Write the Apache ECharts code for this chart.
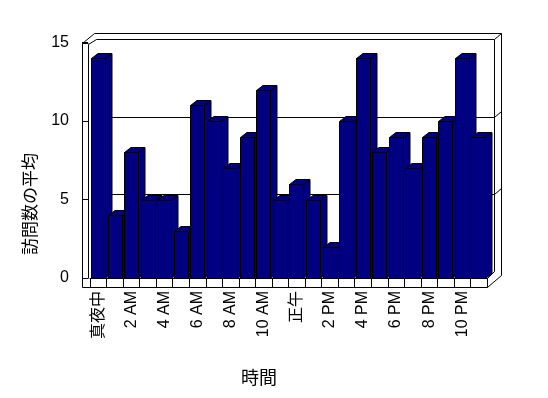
<!DOCTYPE html>
<html>
<head>
<meta charset="utf-8">
<script src="https://cdn.jsdelivr.net/npm/echarts@6/dist/echarts.min.js"></script>
<style>
  html, body { margin: 0; padding: 0; background: #fff; }
  #chart { width: 548px; height: 398px; }
</style>
</head>
<body>
<div id="chart"></div>
<script>
// hours of the day
var hours = [
  "真夜中", "1 AM", "2 AM", "3 AM", "4 AM", "5 AM", "6 AM", "7 AM",
  "8 AM", "9 AM", "10 AM", "11 AM", "正午", "1 PM", "2 PM", "3 PM",
  "4 PM", "5 PM", "6 PM", "7 PM", "8 PM", "9 PM", "10 PM", "11 PM"
];
// average visits per hour
var visits = [14, 4, 8, 5, 5, 3, 11, 10, 7, 9, 12, 5, 6, 5, 2, 10, 14, 8, 9, 7, 9, 10, 14, 9];
var yTicks = { min: 0, max: 15, step: 5 };
var xTitle = "時間";
var yTitle = "訪問数の平均";

var navy = "#000080";
var font = "'Liberation Sans', 'Noto Sans CJK JP', sans-serif";

var chart = echarts.init(document.getElementById("chart"));

function bar3d(params, api) {
  var top = api.coord([api.value(0), api.value(1)]);
  var base = api.coord([api.value(0), 0]);
  var band = api.size([1, 0])[0];
  var x0 = Math.round(top[0] - band / 2 + band * 0.06) + 0.5;
  var x1 = x0 + Math.round(band * 0.82);
  var t = Math.round(top[1]) + 0.5;
  var b = Math.round(base[1]) + 0.5;
  var dx = 6.5, dy = 5;
  var st = { fill: navy, stroke: "#000", lineWidth: 1 };
  return {
    type: "group",
    children: [
      { type: "polygon", shape: { points: [[x1, t], [x1 + dx, t - dy], [x1 + dx, b - dy], [x1, b]] }, style: st },
      { type: "polygon", shape: { points: [[x0, t], [x0 + dx, t - dy], [x1 + dx, t - dy], [x1, t]] }, style: st },
      { type: "rect", shape: { x: x0, y: t, width: x1 - x0, height: b - t }, style: st }
    ]
  };
}

var line = { stroke: "#000", lineWidth: 1, fill: null };

var option = {
  backgroundColor: "#fff",
  animation: false,
  grid: [
    { left: 90, right: 61, top: 42.6, bottom: 120 },
    { left: 97, right: 54, top: 39.5, bottom: 126.5 }
  ],
  xAxis: [
    {
      type: "category",
      gridIndex: 0,
      data: hours,
      axisLine: { lineStyle: { color: "#000", width: 1 } },
      axisTick: { show: true, interval: 0, length: 9, lineStyle: { color: "#000" } },
      axisLabel: {
        interval: 1,
        rotate: 90,
        margin: 13,
        color: "#000",
        fontSize: 16,
        fontFamily: font
      },
      splitLine: { show: false }
    },
    {
      type: "value",
      gridIndex: 1,
      show: false
    }
  ],
  yAxis: [
    {
      type: "value",
      gridIndex: 0,
      min: yTicks.min,
      max: yTicks.max,
      interval: yTicks.step,
      offset: 8,
      axisLine: { show: false },
      axisTick: { show: true, inside: true, length: 6, lineStyle: { color: "#000" } },
      axisLabel: { color: "#000", fontSize: 16, fontFamily: font, margin: 13 },
      splitLine: { show: false }
    },
    {
      type: "value",
      gridIndex: 1,
      min: yTicks.min,
      max: yTicks.max,
      interval: yTicks.step,
      axisLine: { show: false },
      axisTick: { show: false },
      axisLabel: { show: false },
      splitLine: { show: true, showMinLine: false, lineStyle: { color: "#000", width: 1 } }
    }
  ],
  graphic: [
    // outer box
    { type: "polygon", z: 0, silent: true,
      shape: { points: [[82.5, 287.5], [82.5, 43.5], [94.5, 33.5], [501.5, 33.5], [501.5, 275.5], [487.5, 287.5]] },
      style: { stroke: "#000", lineWidth: 1, fill: "#fff" } },
    // left wall inner edge and back wall
    { type: "polyline", z: 1, silent: true,
      shape: { points: [[88.5, 278.5], [88.5, 44.5], [96.5, 39.5], [494.5, 39.5], [494.5, 271.5]] },
      style: line },
    { type: "polyline", z: 1, silent: true, shape: { points: [[82.5, 43.5], [88.5, 43.5]] }, style: line },
    { type: "polyline", z: 1, silent: true, shape: { points: [[494.5, 39.5], [501.5, 33.5]] }, style: line },
    { type: "polyline", z: 1, silent: true, shape: { points: [[494.5, 117.5], [501.5, 111.5]] }, style: line },
    { type: "polyline", z: 1, silent: true, shape: { points: [[494.5, 194.5], [501.5, 188.5]] }, style: line },
    // floor right side
    { type: "polyline", z: 1, silent: true,
      shape: { points: [[487.5, 287.5], [487.5, 278.5], [494.5, 271.5]] }, style: line },
    // titles
    { type: "text", z: 5, x: 30, y: 204, rotation: Math.PI / 2,
      style: { text: yTitle, fill: "#000", font: "17px 'Noto Sans CJK JP'", textAlign: "center", textVerticalAlign: "middle" } },
    { type: "text", z: 5, x: 259, y: 377,
      style: { text: xTitle, fill: "#000", font: "18px 'Noto Sans CJK JP'", textAlign: "center", textVerticalAlign: "middle" } }
  ],
  series: [
    {
      type: "custom",
      xAxisIndex: 0,
      yAxisIndex: 0,
      z: 5,
      renderItem: bar3d,
      encode: { x: 0, y: 1 },
      data: visits.map(function (v, i) { return [i, v]; })
    }
  ]
};

chart.setOption(option);
</script>
</body>
</html>
